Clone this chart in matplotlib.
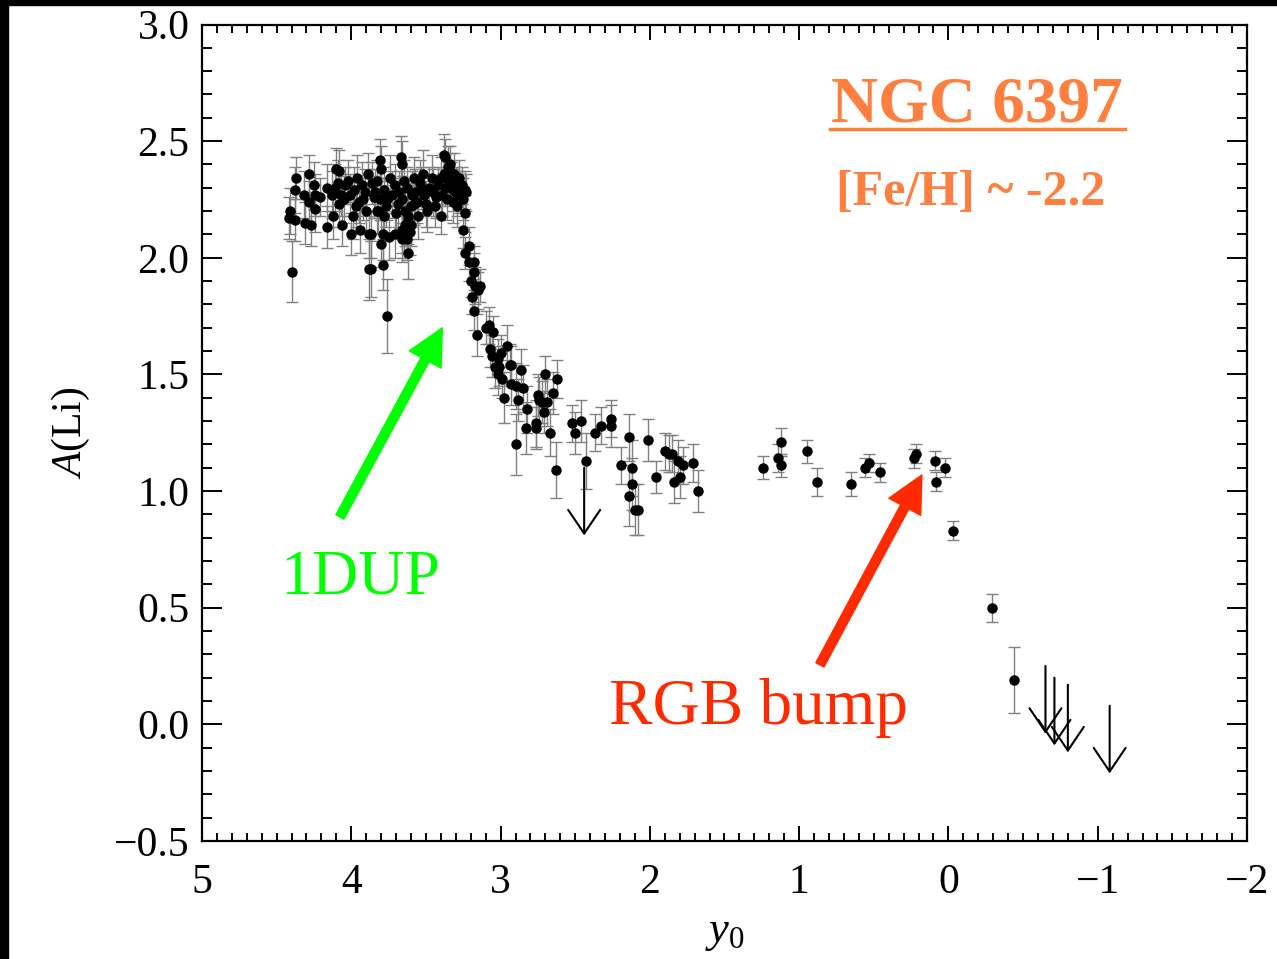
import matplotlib
matplotlib.use("Agg")
import matplotlib.pyplot as plt
from matplotlib.ticker import MultipleLocator
from matplotlib.patches import Rectangle

plt.rcParams['font.family'] = ['Liberation Serif', 'DejaVu Serif']
plt.rcParams['mathtext.fontset'] = 'custom'
plt.rcParams['mathtext.rm'] = 'Liberation Serif'
plt.rcParams['mathtext.it'] = 'Liberation Serif:italic'

# ---- data: detections (y0, A(Li), error) ----
y0_det = [4.42, 4.41, 4.38, 4.40, 4.37, 4.38, 4.31, 4.28, 4.32, 4.27, 4.25, 4.28, 4.24, 4.24, 4.21,
          4.16, 4.16, 4.13, 4.10, 4.12, 4.08, 4.09, 4.06, 4.08, 4.04, 4.00, 3.99, 4.01, 3.96, 3.94,
          3.95, 3.88, 3.88, 3.89, 3.91, 3.85, 3.83,
          3.81, 3.80, 3.83, 3.82, 3.87, 3.79, 3.80, 3.79, 3.76, 3.87, 3.75, 3.71, 3.78, 3.74, 3.76,
          3.67, 3.66, 3.65, 3.69, 3.64, 3.63, 3.65, 3.62, 3.58, 3.59, 3.58, 3.55, 3.53, 3.52, 3.49,
          3.46, 3.43, 3.40, 3.38, 3.37, 3.35, 3.34, 3.40, 3.33, 3.32, 3.28, 3.27, 3.24, 3.29, 3.24,
          3.25,
          4.11, 4.07, 4.05, 4.02, 3.98, 3.97, 3.93, 3.92, 3.90, 3.86, 3.84, 3.81, 3.78, 3.77, 3.73,
          3.71, 3.70, 3.68, 3.66, 3.63, 3.62, 3.60, 3.57, 3.56, 3.54, 3.51, 3.50, 3.48, 3.45, 3.44,
          3.42, 3.39, 3.37, 3.36, 3.35, 3.32, 3.30, 3.29, 3.26, 3.25, 3.23, 3.31, 3.34, 3.38, 3.62,
          3.64, 3.66, 3.60, 3.66, 3.63, 3.61,
          3.21, 3.24, 3.21, 3.18, 3.18, 3.20, 3.17, 3.14, 3.15, 3.19, 3.18, 3.16, 3.10, 3.08, 3.05,
          3.07, 3.06, 3.00, 2.96, 3.02, 3.04, 3.01, 3.02, 2.99, 2.94, 2.93, 2.98, 2.93, 2.90, 2.86,
          2.85, 2.88, 2.82, 2.83, 2.75, 2.74, 2.72, 2.69, 2.71, 2.70, 2.65, 2.62, 2.76, 2.76, 2.67,
          2.90, 2.63,
          2.52, 2.46, 2.50, 2.43, 2.37, 2.33, 2.26, 2.26, 2.14, 2.19, 2.12, 2.12, 2.14, 2.10, 2.08,
          2.01, 1.96, 1.90, 1.87, 1.85, 1.81, 1.78, 1.80, 1.84, 1.71, 1.68,
          1.24, 1.14, 1.12, 1.12, 0.95, 0.88, 0.65, 0.56, 0.53, 0.46, 0.22, 0.23, 0.09, 0.02, 0.08,
          -0.03, -0.29, -0.44]
ALi_det = [2.17, 2.20, 2.16, 1.94, 2.34, 2.29, 2.15, 2.36, 2.27, 2.14, 2.31, 2.24, 2.21, 2.27, 2.26,
           2.30, 2.13, 2.27, 2.38, 2.18, 2.37, 2.32, 2.14, 2.23, 2.31, 2.10, 2.18, 2.27, 2.34, 2.12,
           2.24, 1.95, 2.10, 2.36, 2.28, 2.26, 2.20,
           2.42, 2.38, 2.33, 2.20, 2.10, 2.10, 2.06, 1.97, 1.75, 1.95, 2.09, 2.10, 2.18, 2.34, 2.25,
           2.43, 2.40, 2.33, 2.23, 2.14, 2.12, 2.10, 2.02, 2.34, 2.27, 2.23, 2.18, 2.30, 2.36, 2.20,
           2.34, 2.26, 2.18, 2.44, 2.43, 2.39, 2.37, 2.34, 2.33, 2.24, 2.34, 2.28, 2.29, 2.22, 2.19,
           2.12,
           2.30, 2.27, 2.25, 2.33, 2.29, 2.22, 2.31, 2.25, 2.20, 2.32, 2.28, 2.25, 2.29, 2.22, 2.27,
           2.31, 2.19, 2.28, 2.25, 2.30, 2.18, 2.22, 2.28, 2.24, 2.32, 2.27, 2.23, 2.30, 2.28, 2.22,
           2.31, 2.27, 2.30, 2.25, 2.33, 2.29, 2.31, 2.27, 2.31, 2.25, 2.28, 2.36, 2.40, 2.36, 2.16,
           2.20, 2.12, 2.14, 2.08, 2.08, 2.11,
           2.05, 2.02, 1.98, 1.98, 1.94, 1.90, 1.88, 1.88, 1.86, 1.83, 1.77, 1.67, 1.70, 1.71, 1.68,
           1.61, 1.58, 1.59, 1.62, 1.57, 1.53, 1.53, 1.50, 1.48, 1.54, 1.54, 1.40, 1.46, 1.45, 1.52,
           1.44, 1.39, 1.35, 1.27, 1.41, 1.39, 1.38, 1.38, 1.34, 1.50, 1.42, 1.48, 1.29, 1.27, 1.25,
           1.20, 1.09,
           1.29, 1.30, 1.25, 1.13, 1.25, 1.28, 1.31, 1.28, 1.23, 1.11, 1.10, 1.03, 0.98, 0.92, 0.92,
           1.22, 1.06, 1.17, 1.16, 1.16, 1.13, 1.11, 1.06, 1.04, 1.12, 1.00,
           1.10, 1.14, 1.21, 1.11, 1.17, 1.04, 1.03, 1.10, 1.12, 1.08, 1.16, 1.14, 1.13, 1.10, 1.04,
           0.83, 0.50, 0.19]
err_det = [0.09, 0.10, 0.09, 0.13, 0.09, 0.10, 0.09, 0.08, 0.10, 0.09, 0.10, 0.09, 0.10, 0.09, 0.08,
           0.10, 0.09, 0.10, 0.09, 0.10, 0.09, 0.10, 0.09, 0.10, 0.08, 0.09, 0.10, 0.09, 0.10, 0.10,
           0.09, 0.13, 0.10, 0.09, 0.10, 0.09, 0.10,
           0.09, 0.10, 0.09, 0.10, 0.10, 0.11, 0.10, 0.11, 0.16, 0.12, 0.10, 0.10, 0.09, 0.10, 0.09,
           0.09, 0.10, 0.09, 0.10, 0.09, 0.10, 0.10, 0.11, 0.09, 0.10, 0.09, 0.10, 0.09, 0.10, 0.09,
           0.10, 0.09, 0.08, 0.09, 0.08, 0.09, 0.08, 0.09, 0.08, 0.09, 0.08, 0.09, 0.08, 0.09, 0.08,
           0.08,
           0.10, 0.09, 0.10, 0.09, 0.10, 0.09, 0.10, 0.09, 0.10, 0.09, 0.10, 0.09, 0.10, 0.09, 0.10,
           0.09, 0.10, 0.09, 0.10, 0.09, 0.10, 0.09, 0.10, 0.09, 0.10, 0.09, 0.10, 0.09, 0.10, 0.09,
           0.08, 0.09, 0.08, 0.09, 0.08, 0.09, 0.08, 0.09, 0.08, 0.09, 0.08, 0.09, 0.08, 0.09, 0.10,
           0.09, 0.10, 0.09, 0.10, 0.09, 0.10,
           0.08, 0.07, 0.08, 0.07, 0.08, 0.07, 0.08, 0.07, 0.08, 0.07, 0.08, 0.09, 0.07, 0.08, 0.07,
           0.08, 0.09, 0.08, 0.09, 0.08, 0.09, 0.08, 0.09, 0.08, 0.09, 0.08, 0.11, 0.09, 0.10, 0.09,
           0.10, 0.09, 0.10, 0.11, 0.09, 0.10, 0.09, 0.10, 0.09, 0.08, 0.09, 0.08, 0.10, 0.09, 0.10,
           0.13, 0.12,
           0.08, 0.09, 0.09, 0.12, 0.08, 0.08, 0.08, 0.09, 0.10, 0.08, 0.12, 0.11, 0.13, 0.11, 0.11,
           0.09, 0.07, 0.08, 0.08, 0.08, 0.09, 0.08, 0.09, 0.09, 0.08, 0.09,
           0.05, 0.06, 0.06, 0.05, 0.05, 0.06, 0.05, 0.04, 0.04, 0.04, 0.04, 0.04, 0.04, 0.04, 0.04,
           0.04, 0.06, 0.14]

# ---- data: upper limits (y0, A(Li) limit) ----
y0_ul = [2.44, -0.65, -0.71, -0.80, -1.08]
ALi_ul = [1.10, 0.25, 0.20, 0.17, 0.08]

xticks = [5, 4, 3, 2, 1, 0, -1, -2]
yticks = [-0.5, 0.0, 0.5, 1.0, 1.5, 2.0, 2.5, 3.0]

W, H = 1277, 959
fig = plt.figure(figsize=(W / 100, H / 100), dpi=100)
fig.patch.set_facecolor('white')
# black frame strips (top and left) as in the reference
fig.add_artist(Rectangle((0, 1 - 5 / H), 1, 5 / H, transform=fig.transFigure, color='black', zorder=0))
fig.add_artist(Rectangle((0, 0), 8 / W, 1, transform=fig.transFigure, color='black', zorder=0))

ax = fig.add_axes([202 / W, 1 - 841 / H, (1247 - 202) / W, (841 - 24.5) / H])
ax.set_xlim(5, -2)
ax.set_ylim(-0.5, 3.0)

ax.errorbar(y0_det, ALi_det, yerr=err_det, fmt='none', ecolor='0.5', elinewidth=1.0,
            capsize=4.5, capthick=1.0, zorder=2)
ax.plot(y0_det, ALi_det, 'o', color='black', markersize=6.5, zorder=3)

L = 0.29
for xu, yu in zip(y0_ul, ALi_ul):
    ax.annotate('', xy=(xu, yu - L), xytext=(xu, yu),
                arrowprops=dict(arrowstyle='->,head_length=1.7,head_width=1.15',
                                color='black', lw=1.5, shrinkA=0, shrinkB=0, mutation_scale=10),
                zorder=3)

ax.set_xticks(xticks)
ax.set_yticks(yticks)
ax.set_xticklabels([f'{t:d}'.replace('-', '\u2212') for t in xticks])
ax.set_yticklabels([f'{t:.1f}'.replace('-', '\u2212') for t in yticks])
ax.xaxis.set_minor_locator(MultipleLocator(0.1))
ax.yaxis.set_minor_locator(MultipleLocator(0.1))
ax.tick_params(which='both', direction='in', top=True, right=True, width=1.4, labelsize=30)
ax.tick_params(axis='x', which='major', length=11, pad=16)
ax.tick_params(axis='x', which='minor', length=5.5)
ax.tick_params(axis='y', which='major', length=14.5, pad=9)
ax.tick_params(axis='y', which='minor', length=7.2)
for s in ax.spines.values():
    s.set_linewidth(1.6)

ax.set_xlabel(r'$y_0$', fontsize=32, labelpad=8)
ax.set_ylabel(r'$A$(Li)', fontsize=30, labelpad=16)

orange = '#FF7F40'
ax.text(-0.19, 2.586, 'NGC 6397', color=orange, fontsize=47, fontweight='bold',
        ha='center', va='baseline')
ax.plot([0.601, 0.883], [0.872, 0.872], transform=ax.transAxes, color=orange, lw=2.5)
ax.text(-0.15, 2.226, '[Fe/H] ~ -2.2', color=orange, fontsize=36, fontweight='bold',
        ha='center', va='baseline')

green = '#00FF00'
red = '#FF2A00'
ax.annotate('', xy=(3.39, 1.70), xytext=(4.076, 0.889),
            arrowprops=dict(arrowstyle='simple,head_length=1.3,head_width=1.3,tail_width=0.33',
                            color=green, shrinkA=0, shrinkB=0, mutation_scale=20))
ax.text(3.94, 0.563, '1DUP', color=green, fontsize=46, ha='center', va='baseline')
ax.annotate('', xy=(0.178, 1.069), xytext=(0.861, 0.255),
            arrowprops=dict(arrowstyle='simple,head_length=1.3,head_width=1.3,tail_width=0.33',
                            color=red, shrinkA=0, shrinkB=0, mutation_scale=20))
ax.text(1.276, 0.0, 'RGB bump', color=red, fontsize=47, ha='center', va='baseline')

fig.savefig('out.png', dpi=100, facecolor='white')
